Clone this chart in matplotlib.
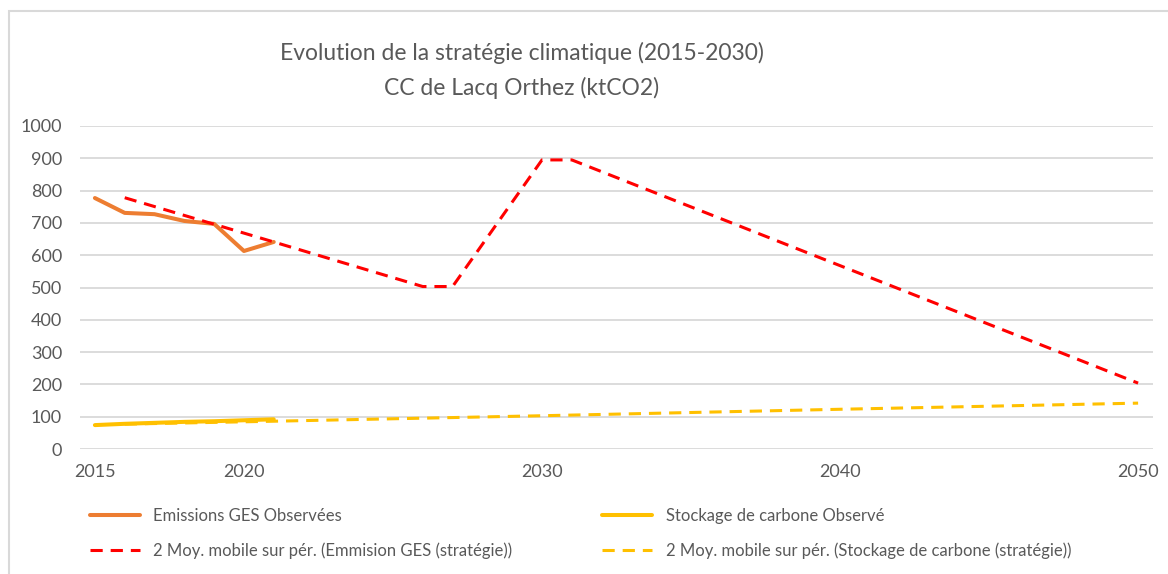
import matplotlib
matplotlib.use("Agg")
import matplotlib.pyplot as plt
from matplotlib.patches import Rectangle

# Observed data
obs_years = [2015, 2016, 2017, 2018, 2019, 2020, 2021]
emis_obs = [777, 731, 727, 706, 697, 613, 641]
stock_obs = [74, 78, 81, 84, 86, 89, 92]

# Strategy moving averages (vertices)
emis_ma_years = [2016, 2021, 2026, 2027, 2030, 2031, 2050]
emis_ma = [778, 641, 503, 503, 895, 895, 204]
stock_ma_years = [2016, 2021, 2030, 2040, 2050]
stock_ma = [77, 86, 103, 123, 142]

xticks = [2015, 2020, 2030, 2040, 2050]
yticks = list(range(0, 1001, 100))

TEXT = "#595959"
GRID = "#D9D9D9"

plt.rcParams.update({
    "font.family": ["Lato", "DejaVu Sans"],
})

fig = plt.figure(figsize=(11.68, 5.74), dpi=100)
ax = fig.add_axes([80 / 1168, 1 - 449 / 574, (1153 - 80) / 1168, (449 - 126) / 574])

l1, = ax.plot(obs_years, emis_obs, color="#ED7D31", lw=2.9,
              solid_capstyle="round", solid_joinstyle="round",
              label="Emissions GES Observées")
l3, = ax.plot(obs_years, stock_obs, color="#FFC000", lw=2.9,
              solid_capstyle="round", label="Stockage de carbone Observé")
l2, = ax.plot(emis_ma_years, emis_ma, color="#FF0000", lw=2.2,
              dashes=(4, 2.6), label="2 Moy. mobile sur pér. (Emmision GES (stratégie))")
l4, = ax.plot(stock_ma_years, stock_ma, color="#FFC000", lw=2.2,
              dashes=(4, 2.6), label="2 Moy. mobile sur pér. (Stockage de carbone (stratégie))")

ax.set_xlim(2014.5, 2050.5)
ax.set_ylim(0, 1000)
ax.set_xticks(xticks)
ax.set_yticks(yticks)
ax.tick_params(length=0, labelsize=13, colors=TEXT)
ax.tick_params(axis="x", pad=11)
ax.tick_params(axis="y", pad=13)
ax.grid(axis="y", color=GRID, lw=1.3)
ax.set_axisbelow(True)
for s in ax.spines.values():
    s.set_visible(False)

fig.text(522 / 1168, 1 - 53 / 574, "Evolution de la stratégie climatique (2015-2030)",
         ha="center", va="center", fontsize=16.5, color=TEXT)
fig.text(522 / 1168, 1 - 88 / 574, "CC de Lacq Orthez (ktCO2)",
         ha="center", va="center", fontsize=16.5, color=TEXT)

fig.legend(handles=[l1, l2, l3, l4], loc="upper left",
           bbox_to_anchor=(90 / 1168, 1 - 508 / 574), ncol=2, frameon=False,
           fontsize=12, labelcolor=TEXT, handlelength=3.0, handletextpad=0.8,
           columnspacing=5.4, labelspacing=1.1, borderpad=0, borderaxespad=0)

fig.patches.append(Rectangle((9 / 1168, -0.1), 1.2, 1.1 - 11 / 574,
                             transform=fig.transFigure, fill=False,
                             edgecolor=GRID, lw=1.5))

fig.savefig("out.png", dpi=100)
